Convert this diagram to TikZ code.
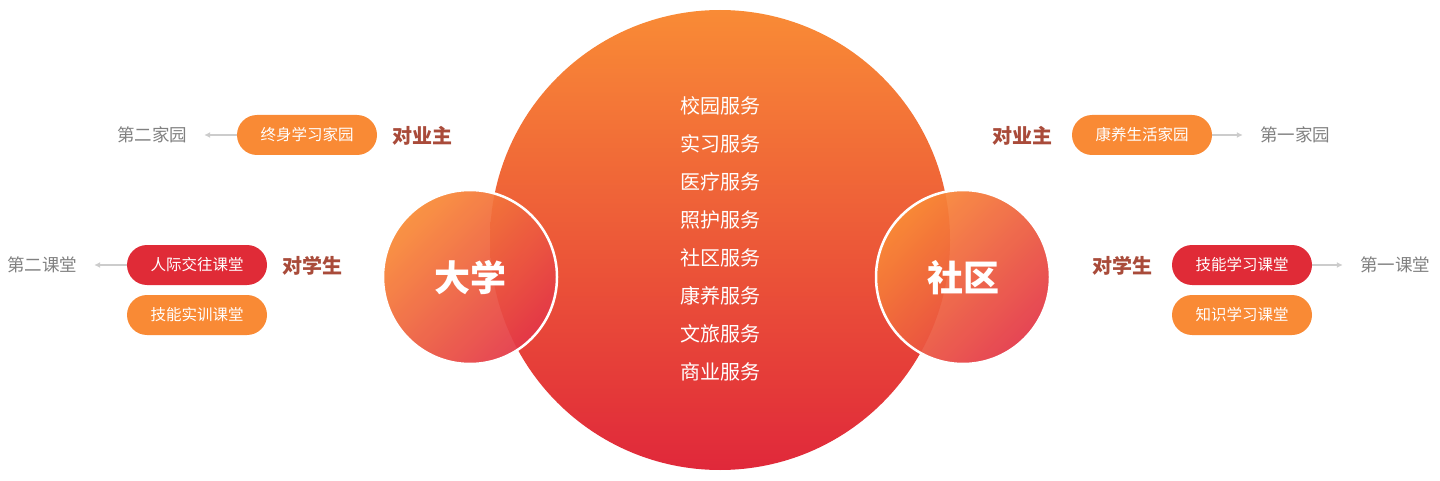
\documentclass[tikz,border=0pt]{standalone}
\usepackage{fontspec}
\newfontfamily\cjk{Noto Sans CJK SC}
\usetikzlibrary{arrows.meta}

\definecolor{pillorange}{HTML}{F98A35}
\definecolor{pillred}{HTML}{E02B37}
\definecolor{darkrust}{HTML}{A94B3A}
\definecolor{textgray}{HTML}{808080}
\definecolor{arrowgray}{HTML}{CCCCCC}
\definecolor{toporange}{HTML}{F98B36}
\definecolor{bottomred}{HTML}{E0283A}

\tikzset{
  pill/.style={rectangle,rounded corners=20pt,minimum width=140pt,minimum height=40pt,
    inner sep=0pt,text=white,font=\cjk\fontsize{15.5}{18}\selectfont},
  svc/.style={text=white,inner sep=0pt,font=\cjk\fontsize{20}{24}\selectfont},
  target/.style={text=darkrust,inner sep=0pt,font=\cjk\bfseries\fontsize{20}{24}\selectfont},
  dest/.style={text=textgray,inner sep=0pt,font=\cjk\fontsize{17.5}{20}\selectfont},
  hub/.style={text=white,inner sep=0pt,font=\cjk\bfseries\fontsize{36}{40}\selectfont},
  link/.style={arrowgray,line width=1.5pt,-{Latex[length=6pt,width=6pt]}}
}

\begin{document}
\begin{tikzpicture}[x=1pt,y=-1pt]
        \useasboundingbox (0,0) rectangle (1440,481);

        % big circle with service list
        \shade[top color=toporange,bottom color=bottomred] (720,240) circle (230);
        \foreach[count=\i,evaluate={106+38*(\i-1)} as \y] \t in
          {校园服务,实习服务,医疗服务,照护服务,社区服务,康养服务,文旅服务,商业服务} {
          \node[svc] (svc\i) at (720,\y) {\t};
        }

        % two small circles
        \foreach \cx/\nm in {470/uni,963/com} {
          \shade[top color=toporange,bottom color=bottomred!90!pink,shading angle=45,opacity=0.93]
            (\cx,277) circle (87);
          \draw[white,line width=2.5pt] (\cx,277) circle (87);
        }
        \node[hub] (uni) at (470,278) {大学};
        \node[hub] (com) at (963,278) {社区};

        % left side
        \node[pill,fill=pillorange] (lifehome) at (307,135) {终身学习家园};
        \node[target] (ownerL) at (422,136) {对业主};
        \node[dest] (home2) at (152,135) {第二家园};
        \draw[link,shorten >=17pt] (lifehome) -- (home2);

        \node[pill,fill=pillred] (social) at (197,265) {人际交往课堂};
        \node[pill,fill=pillorange] (skillL) at (197,315) {技能实训课堂};
        \node[target] (studentL) at (312,266) {对学生};
        \node[dest] (class2) at (42,265) {第二课堂};
        \draw[link,shorten >=17pt] (social) -- (class2);

        % right side
        \node[target] (ownerR) at (1022,136) {对业主};
        \node[pill,fill=pillorange] (carehome) at (1142,135) {康养生活家园};
        \node[dest] (home1) at (1295,135) {第一家园};
        \draw[link,shorten >=17pt] (carehome) -- (home1);

        \node[target] (studentR) at (1122,266) {对学生};
        \node[pill,fill=pillred] (skillR) at (1242,265) {技能学习课堂};
        \node[pill,fill=pillorange] (knowR) at (1242,315) {知识学习课堂};
        \node[dest] (class1) at (1395,265) {第一课堂};
        \draw[link,shorten >=17pt] (skillR) -- (class1);
      \end{tikzpicture}
\end{document}
